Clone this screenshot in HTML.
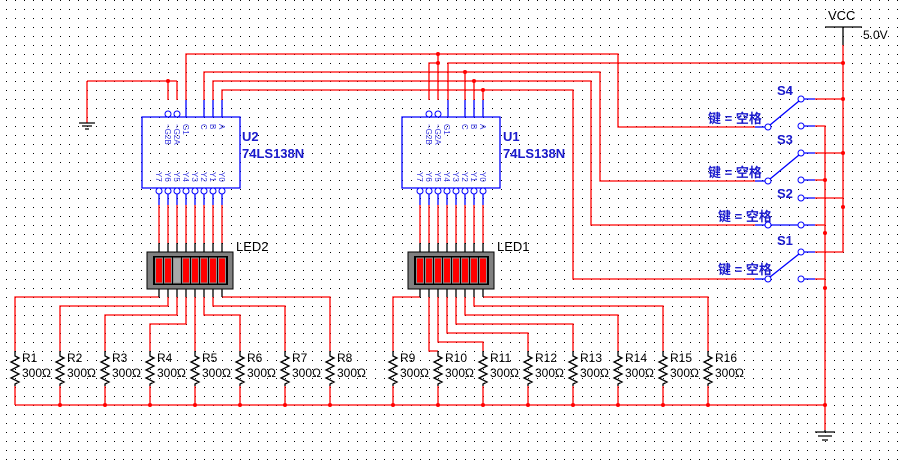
<!DOCTYPE html>
<html><head><meta charset="utf-8"><style>
html,body{margin:0;padding:0;background:#fff;}
svg{display:block;}
text{font-family:"Liberation Sans","Noto Sans CJK SC",sans-serif;}
</style></head><body>
<svg id="s" width="905" height="464" viewBox="0 0 905 464" xmlns="http://www.w3.org/2000/svg">
<defs>
<pattern id="g" x="6" y="0" width="9" height="9" patternUnits="userSpaceOnUse"><rect x="0" y="0" width="1" height="1" fill="#000"/></pattern>
</defs>
<rect width="905" height="464" fill="#fff"/>
<rect width="905" height="464" fill="url(#g)"/>
<g id="w" fill="none" stroke="#f00" stroke-width="1.3"></g>
<g id="b" fill="none" stroke="#00f" stroke-width="1.3"></g>
<g id="k" fill="none" stroke="#000" stroke-width="1.3"></g>
<g id="d" fill="#f00"></g>
<g id="o" fill="#fff" stroke="#00f" stroke-width="1"></g>

<g fill="#1a1acc" font-weight="bold" font-size="13">
<text x="242" y="141">U2</text><text x="242" y="158">74LS138N</text>
<text x="503" y="141">U1</text><text x="503" y="158">74LS138N</text>
<text x="777" y="95">S4</text><text x="777" y="144">S3</text>
<text x="777" y="198">S2</text><text x="777" y="245">S1</text>
</g>
<g fill="#1a1acc" font-size="13" font-weight="bold">
<text x="708" y="123">键 = 空格</text>
<text x="708" y="177">键 = 空格</text>
<text x="718" y="221">键 = 空格</text>
<text x="718" y="274">键 = 空格</text>
</g>
<g fill="#000" font-size="13">
<text x="236" y="251">LED2</text><text x="497" y="251">LED1</text>
<text x="828" y="20">VCC</text><text x="863" y="39" font-size="12">5.0V</text>
</g>
<g fill="#3a3ae0" font-size="8">
<text transform="translate(165,124) rotate(90)">~G2B</text>
<text transform="translate(174,124) rotate(90)">~G2A</text>
<text transform="translate(183,124) rotate(90)">G1</text>
<text transform="translate(201,124) rotate(90)">C</text>
<text transform="translate(210,124) rotate(90)">B</text>
<text transform="translate(219,124) rotate(90)">A</text>
<text transform="translate(426,124) rotate(90)">~G2B</text>
<text transform="translate(435,124) rotate(90)">~G2A</text>
<text transform="translate(444,124) rotate(90)">G1</text>
<text transform="translate(462,124) rotate(90)">C</text>
<text transform="translate(471,124) rotate(90)">B</text>
<text transform="translate(480,124) rotate(90)">A</text>
<text transform="translate(156,172) rotate(90)">Y7</text><text transform="translate(165,172) rotate(90)">Y6</text>
<text transform="translate(174,172) rotate(90)">Y5</text><text transform="translate(183,172) rotate(90)">Y4</text>
<text transform="translate(192,172) rotate(90)">Y3</text><text transform="translate(201,172) rotate(90)">Y2</text>
<text transform="translate(210,172) rotate(90)">Y1</text><text transform="translate(219,172) rotate(90)">Y0</text>
<text transform="translate(417,172) rotate(90)">Y7</text><text transform="translate(426,172) rotate(90)">Y6</text>
<text transform="translate(435,172) rotate(90)">Y5</text><text transform="translate(444,172) rotate(90)">Y4</text>
<text transform="translate(453,172) rotate(90)">Y3</text><text transform="translate(462,172) rotate(90)">Y2</text>
<text transform="translate(471,172) rotate(90)">Y1</text><text transform="translate(480,172) rotate(90)">Y0</text>
</g>
<g fill="#000" font-size="12">
<text x="22" y="362">R1</text><text x="22" y="377">300Ω</text>
<text x="67" y="362">R2</text><text x="67" y="377">300Ω</text>
<text x="112" y="362">R3</text><text x="112" y="377">300Ω</text>
<text x="157" y="362">R4</text><text x="157" y="377">300Ω</text>
<text x="202" y="362">R5</text><text x="202" y="377">300Ω</text>
<text x="247" y="362">R6</text><text x="247" y="377">300Ω</text>
<text x="292" y="362">R7</text><text x="292" y="377">300Ω</text>
<text x="337" y="362">R8</text><text x="337" y="377">300Ω</text>
<text x="400" y="362">R9</text><text x="400" y="377">300Ω</text>
<text x="445" y="362">R10</text><text x="445" y="377">300Ω</text>
<text x="490" y="362">R11</text><text x="490" y="377">300Ω</text>
<text x="535" y="362">R12</text><text x="535" y="377">300Ω</text>
<text x="580" y="362">R13</text><text x="580" y="377">300Ω</text>
<text x="625" y="362">R14</text><text x="625" y="377">300Ω</text>
<text x="670" y="362">R15</text><text x="670" y="377">300Ω</text>
<text x="715" y="362">R16</text><text x="715" y="377">300Ω</text>
</g>
</svg>
<script>
const NS="http://www.w3.org/2000/svg";
function P(g,d){const e=document.createElementNS(NS,"path");e.setAttribute("d",d);document.getElementById(g).appendChild(e);return e;}
function R(x,y,w,h,f,s){const e=document.createElementNS(NS,"rect");e.setAttribute("x",x);e.setAttribute("y",y);e.setAttribute("width",w);e.setAttribute("height",h);e.setAttribute("fill",f);if(s){e.setAttribute("stroke",s);e.setAttribute("stroke-width",1);}document.getElementById("s").appendChild(e);}
function D(x,y){const e=document.createElementNS(NS,"circle");e.setAttribute("cx",x);e.setAttribute("cy",y);e.setAttribute("r",2);document.getElementById("d").appendChild(e);}
function O(x,y){const e=document.createElementNS(NS,"circle");e.setAttribute("cx",x);e.setAttribute("cy",y);e.setAttribute("r",3);document.getElementById("o").appendChild(e);}
function chip(x0){P("b",`M${x0} 117H${x0+98}V188H${x0}Z`);}
chip(142);chip(402);
[[168,1],[177,1],[186,0],[204,0],[213,0],[222,0]].forEach(([x,o])=>{P("b",`M${x} ${o?111:100}V117`);if(o)O(x,114);});
[[429,1],[438,1],[448,0],[465,0],[474,0],[483,0]].forEach(([x,o])=>{P("b",`M${x} ${o?111:100}V117`);if(o)O(x,114);});
for(let i=0;i<8;i++){[159,420].forEach(b=>{const x=b+9*i;O(x,191);P("b",`M${x} 194V205`);P("w",`M${x} 205V243`);P("k",`M${x} 243V252M${x} 289V297`);});}
P("w","M168 100V81M177 100V81M87 81H177M87 81V123");D(168,81);
P("k","M79 123H95M82 126H92M85 129H89");
P("w","M186 100V54H618V127H755");
P("w","M204 100V72H600V181H755");
P("w","M213 100V81H591V225H755");
P("w","M222 100V90H573V279H755");
P("w","M429 100V63H438M438 100V54");D(438,54);D(438,63);
P("w","M448 100V63H843");
P("w","M465 100V72");D(465,72);P("w","M474 100V81");D(474,81);P("w","M483 100V90");D(483,90);
P("k","M825 27H862M843 27V45");
P("w","M843 45V252H815");
D(843,63);D(843,99);D(843,153);D(843,207);
[[127,99,126,1],[181,153,180,1],[225,198,225,0],[279,252,279,1]].forEach(([c,u,l,t])=>{
  P("b",`M755 ${c}H765`);O(768,c);O(801,u);O(801,l);
  P("b",`M804 ${u}H815M804 ${l}H815`);
  if(t)P("b",`M770 ${c-2}L799 ${u+2}`);else P("b",`M771 ${c}H798`);
});
P("w","M815 99H843M815 153H843M815 198H843M815 126H825V430M815 180H825M815 225H825M815 279H825");
D(825,180);D(825,233);D(825,288);D(825,405);
P("k","M825 430V432M815 432H835M818 436H832M822 440H828");
function res(x){P("k",`M${x} 351V356L${x+4} 358L${x-4} 362L${x+4} 366L${x-4} 370L${x+4} 374L${x-4} 378L${x+4} 382L${x} 384V386`);P("w",`M${x} 386V405`);}
const r1=[15,60,105,150,195,240,285,330],r2=[393,438,483,528,573,618,663,708];
r1.concat(r2).forEach((x,i)=>{res(x);if(i>0)D(x,405);});
P("w","M15 405H825");
const ys=[297,306,315,324,null,315,306,297];
for(let i=0;i<8;i++){const px=159+9*i,rx=r1[i];if(ys[i]===null)P("w",`M${px} 297V351`);else P("w",`M${px} 297V${ys[i]}H${rx}V351`);}
P("w","M420 297H393V351");P("w","M429 297V351H438");
const y2=[342,333,324,315,306,297];
for(let i=0;i<6;i++){const px=438+9*i;P("w",`M${px} 297V${y2[i]}H${r2[i+2]}V351`);}
function led(x0,grey){R(x0,252,86,37,"#808080","#000");R(x0+6,256,75,29,"#000");
 for(let i=0;i<8;i++){const cx=x0+12+9*i;R(cx-3.5,258,7,25,(grey===i)?"#a8a8a8":"#f00","#909090");}}
led(147,2);led(408,-1);
</script>
</body></html>
